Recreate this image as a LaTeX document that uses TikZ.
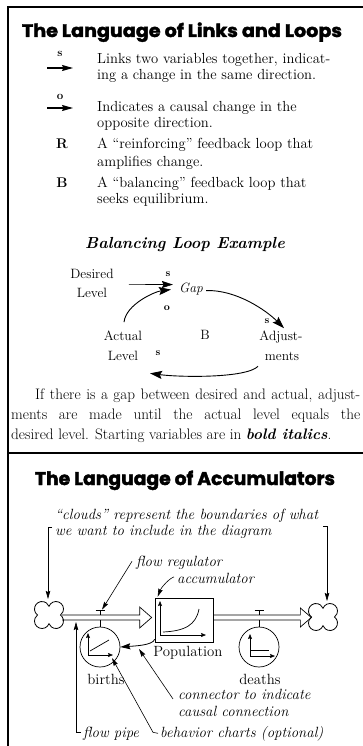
\documentclass[tikz,border=0pt]{standalone}
\usepackage{fontspec}
\usepackage{graphicx}
\newfontfamily\titlefont{Poppins}[BoldFeatures={FakeBold=2}]
\usetikzlibrary{arrows.meta}
\tikzset{
  frameline/.style={line width=1.8pt},
  ttl/.style={inner sep=0pt, anchor=base},
  txt/.style={inner sep=0pt, anchor=base west, font=\fontsize{14.6}{16}\selectfont},
  sym/.style={inner sep=0pt, anchor=base, font=\bfseries\fontsize{11.5}{12}\selectfont},
  symbig/.style={inner sep=0pt, anchor=base, font=\bfseries\fontsize{14}{15}\selectfont},
  hd/.style={inner sep=0pt, anchor=base, font=\bfseries\itshape\fontsize{16}{18}\selectfont},
  lt/.style={inner sep=0pt, anchor=base, font=\fontsize{13.5}{15}\selectfont},
  lsym/.style={inner sep=0pt, anchor=base, font=\bfseries\fontsize{10.5}{11}\selectfont},
  para/.style={inner sep=0pt, anchor=base west, font=\fontsize{15.2}{17}\selectfont},
  itl/.style={inner sep=0pt, anchor=base west, font=\itshape\fontsize{14.8}{15}\selectfont},
  acct/.style={inner sep=0pt, anchor=base, font=\fontsize{14.8}{16}\selectfont},
  lnk/.style={line width=1.2pt, -{Stealth[length=11pt,width=6pt,inset=1.5pt]}},
  loopar/.style={line width=0.9pt, -{Stealth[length=12pt,width=8pt,inset=2pt]}},
  thinarrow/.style={line width=0.6pt, -{Stealth[length=11pt,width=7pt,inset=1.5pt]}},
  lead/.style={line width=0.6pt, -{Stealth[length=8pt,width=4.5pt,inset=1pt]}},
  mini/.style={line width=0.7pt, -{Stealth[length=5pt,width=4pt,inset=0.8pt]}},
  thinline/.style={line width=0.7pt},
  pipe/.style={line width=0.7pt, line join=miter},
  valve/.style={circle, draw, line width=0.7pt, minimum size=40pt, inner sep=0pt},
  accbox/.style={draw, line width=0.7pt, minimum width=58pt, minimum height=44pt, inner sep=0pt},
  qcloud/.pic={
    \draw[line width=0.8pt] (11.5,0) arc[start angle=-53.1, end angle=159, radius=7.5]
      arc[start angle=21, end angle=233.1, radius=7.5]
      arc[start angle=126.9, end angle=339, radius=7.5]
      arc[start angle=201, end angle=413.1, radius=7.5] -- cycle;
  }
}
\begin{document}
\begin{tikzpicture}[x=1pt,y=-1pt]
\useasboundingbox (0,0) rectangle (363,746);
\fill[white] (0,0) rectangle (363,746);

% frame
\draw[frameline] (8,746) -- (8,7) -- (363,7);
\draw[frameline] (8,453) -- (363,453);

% ---------- Links and loops ----------
\node[ttl] (t1) at (182,37) {\resizebox{320pt}{14.5pt}{\titlefont\bfseries The Language of Links and Loops}};

\node[sym] (ls) at (60,57) {s};
\coordinate (la1) at (47,68); \coordinate (la1e) at (73,68);
\draw[lnk] (la1) -- (la1e);
\node[txt] (l1a) at (97,64) {Links two variables together, indicat-};
\node[txt] (l1b) at (97,80) {ing a change in the same direction.};

\node[sym] (lo) at (60,100) {o};
\coordinate (la2) at (47,108); \coordinate (la2e) at (73,108);
\draw[lnk] (la2) -- (la2e);
\node[txt] (l2a) at (97,112) {Indicates a causal change in the};
\node[txt] (l2b) at (97,128) {opposite direction.};

\node[symbig] (lr) at (62,149) {R};
\node[txt] (l3a) at (97,149) {A “reinforcing” feedback loop that};
\node[txt] (l3b) at (97,167) {amplifies change.};

\node[symbig] (lb) at (62,187) {B};
\node[txt] (l4a) at (97,187) {A “balancing” feedback loop that};
\node[txt] (l4b) at (97,204) {seeks equilibrium.};

\node[hd] (ble) at (185,248) {Balancing Loop Example};

% loop
\node[lt] (des1) at (92,278) {Desired};
\node[lt] (des2) at (92,297) {Level};
\node[lt, font=\itshape\fontsize{13.5}{15}\selectfont] (gap) at (191,292) {Gap};
\node[lsym] (s1) at (168,276) {s};
\node[lt] (adj1) at (281,340) {Adjust-};
\node[lt] (adj2) at (282,360) {ments};
\node[lt] (lb2) at (205,339) {B};
\node[lt] (act1) at (123,340) {Actual};
\node[lt] (act2) at (123,360) {Level};
\node[lsym] (s2) at (267,323) {s};
\node[lsym] (o1) at (167,310) {o};
\node[lsym] (s3) at (158,355) {s};

\draw[thinarrow] ([shift={(15,11)}]des1.east) -- ([shift={(-6,-4)}]gap.west);
\draw[loopar] ([shift={(3,2)}]gap.east) .. controls +(30,-1) and +(-18,-18) .. ([shift={(3,-2)}]adj1.north);
\draw[loopar] ([shift={(-24,6)}]adj2.south) .. controls +(-12,12) and +(30,4) .. ([shift={(27,13)}]act2.south);
\draw[loopar] ([shift={(1,-8)}]act1.north) .. controls +(2,-18) and +(-16,2) .. ([shift={(-8,1)}]gap.west);

% paragraph
\node[para] (p1) at (35,399) {\makebox[325pt][s]{If there is a gap between desired and actual, adjust-}};
\node[para] (p2) at (11,419) {\makebox[349pt][s]{ments are made until the actual level equals the}};
\node[para] (p3) at (11,439) {desired level. Starting variables are in {\bfseries\itshape bold italics}.};

% ---------- Accumulators ----------
\node[ttl] (t2) at (185,485) {\resizebox{300pt}{14.5pt}{\titlefont\bfseries The Language of Accumulators}};

\node[itl] (cl1) at (55,519) {“clouds” represent the boundaries of what};
\node[itl] (cl2) at (55,535) {we want to include in the diagram};

\coordinate (cloudL) at (49,615);
\coordinate (cloudR) at (323,617);
\pic at (cloudL) {qcloud};
\pic at (cloudR) {qcloud};

\node[accbox] (box) at (184,620) {};
\node[valve] (births) at (100,647) {};
\node[valve] (deaths) at (259,647) {};

% pipes
\draw[pipe] ([shift={(13,0)}]cloudL) -- ([shift={(-15,-5)}]box.west) -- ++(0,-8)
  -- ([shift={(-3,-2.5)}]box.west) -- ([shift={(-15,8)}]box.west) -- ++(0,-8)
  -- ([shift={(13,5)}]cloudL);
\draw[pipe] ([shift={(0,-5)}]box.east) -- ([shift={(87,-5)}]box.east) -- ++(0,-7)
  -- ([shift={(98,-2.5)}]box.east) -- ([shift={(87,7)}]box.east) -- ++(0,-7)
  -- (box.east);

% valves
\coordinate (vL) at ([shift={(0,-16)}]births.north);
\coordinate (vR) at ([shift={(0,-16)}]deaths.north);
\draw[thinline] (births.north) -- ++(0,-7);
\draw[thinline] (vL) -- ++(0,4);
\draw[line width=1.3pt] ([shift={(-4.5,0)}]vL) -- ++(9,0);
\draw[thinline] (deaths.north) -- ++(0,-7);
\draw[thinline] (vR) -- ++(0,4);
\draw[line width=1.3pt] ([shift={(-4.5,0)}]vR) -- ++(9,0);

% mini charts
\draw[mini] (88,655) -- (88,633);
\draw[mini] (88,655) -- (113,655);
\draw[thinline] (90,651) -- (109,640);

\draw[mini] (250,656) -- (250,634);
\draw[mini] (250,656) -- (275,656);
\draw[thinline] (250,650) -- (269,650);

\draw[mini] (160,635) -- (160,601);
\draw[mini] (160,635) -- (206,635);
\draw[thinline] (163,632) .. controls (185,631) and (196,625) .. (199,609);

% connector
\draw[line width=0.8pt, -{Stealth[length=10pt,width=6pt,inset=1.5pt]}] ([shift={(0,-3)}]box.south west) .. controls +(-2,6) and +(14,-1) .. (births.east);

% labels
\node[acct] (pop) at (188,656) {Population};
\node[acct] (bir) at (106,684) {births};
\node[acct] (dea) at (260,684) {deaths};
\node[itl] (freg) at (136,566) {flow regulator};
\node[itl] (acc) at (177,583) {accumulator};
\node[itl] (cti) at (178,699) {connector to indicate};
\node[itl] (ccn) at (178,716) {causal connection};
\node[itl] (fp) at (83,737) {flow pipe};
\node[itl] (bc) at (160,737) {behavior charts (optional)};

% leaders
\coordinate (brL) at (52,527);
\draw[lead] (brL) -- ++(-4,0) -- ([shift={(-1,-16)}]cloudL);
\coordinate (brR) at (323,526);
\draw[lead] (brR) -- ++(4,0) -- ([shift={(4,-16)}]cloudR);
\draw[lead] ([shift={(-4,-1)}]freg.west) -- ([shift={(2,-1)}]vL);
\draw[lead] ([shift={(-3,-1)}]acc.west) .. controls +(-4,1) and +(4,-10) .. ([shift={(3,-1)}]box.north west);
\coordinate (cpt) at (139,649);
\draw[lead] ([shift={(-5,5)}]cti.west) -- (cpt);
\draw[lead] ([shift={(-2,0)}]bc.west) -- ++(-5,-1) -- ([shift={(12,11)}]births.center);
\draw[lead] ([shift={(-2,-1)}]fp.west) -| ([shift={(27,7)}]cloudL);

\end{tikzpicture}
\end{document}
